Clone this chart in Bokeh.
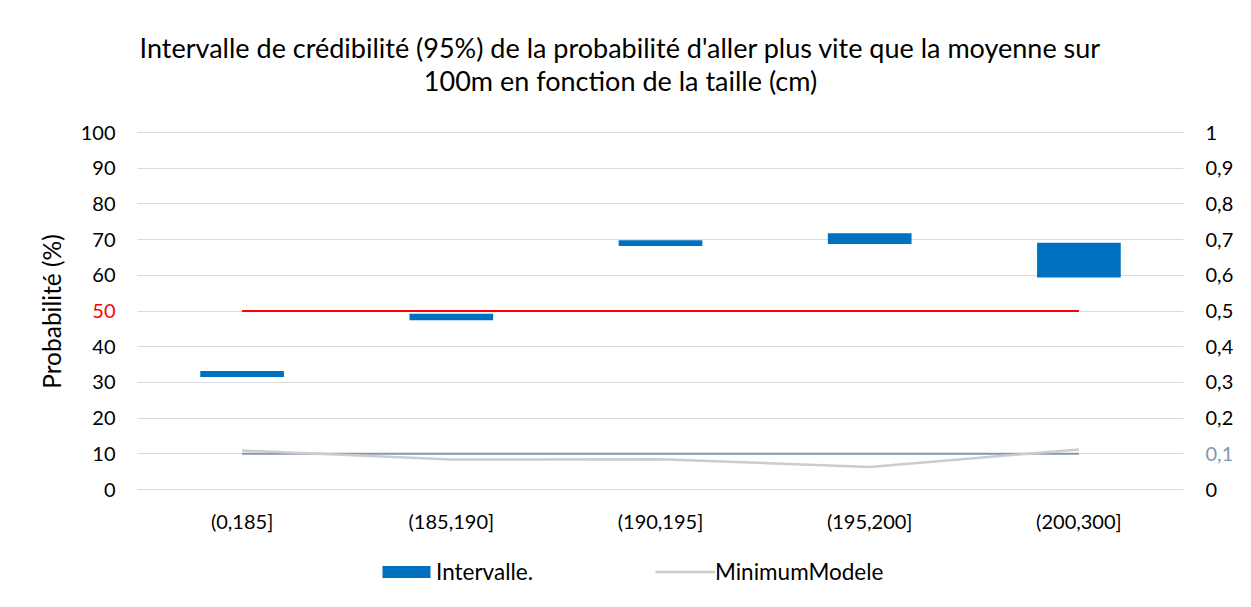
from bokeh.plotting import figure
from bokeh.models import (Range1d, LinearAxis, FixedTicker, CustomJSTickFormatter,
                          Legend, LegendItem, FactorRange, ColumnDataSource)
from bokeh.core.properties import value
from bokeh.embed import file_html
from bokeh.resources import INLINE

# ---------------- data ----------------
categories = ["(0,185]", "(185,190]", "(190,195]", "(195,200]", "(200,300]"]
interval_low = [31.5, 47.4, 68.2, 68.8, 59.4]
interval_high = [33.2, 49.2, 69.8, 71.8, 69.1]
seuil_50 = [50, 50, 50, 50, 50]
minimum_modele = [0.109, 0.084, 0.085, 0.063, 0.112]
seuil_01 = [0.1, 0.1, 0.1, 0.1, 0.1]
y_ticks = [0, 10, 20, 30, 40, 50, 60, 70, 80, 90, 100]
sec_ticks = [0, 0.1, 0.2, 0.3, 0.4, 0.5, 0.6, 0.7, 0.8, 0.9, 1]
title_lines = ["Intervalle de crédibilité (95%) de la probabilité d'aller plus vite que la moyenne sur",
               "100m en fonction de la taille (cm)"]
y_label = "Probabilité (%)"

FONT = "Lato"
TICK_SIZE = "20px"

# The drawing area is extended above and below the 0-100 scale, so that the
# title and the legend sit inside it; ticks and grid only cover 0-100.
PX_PER_UNIT = 3.57
Y_LOW = -101 / PX_PER_UNIT
Y_HIGH = 100 + 100 / PX_PER_UNIT

src = ColumnDataSource(dict(cat=categories, low=interval_low, high=interval_high,
                            s50=seuil_50, mini=minimum_modele, s01=seuil_01))

p = figure(x_range=FactorRange(*categories), y_range=Range1d(Y_LOW, Y_HIGH),
           frame_width=1046, frame_height=558,
           min_border_left=137, min_border_right=67, min_border_top=32, min_border_bottom=16,
           output_backend="svg", toolbar_location=None)
p.extra_y_ranges = {"sec": Range1d(Y_LOW / 100, Y_HIGH / 100)}
p.outline_line_color = None
p.background_fill_color = "white"
p.border_fill_color = "white"

# grid
p.xgrid.grid_line_color = None
p.ygrid.grid_line_color = "#D9D9D9"
p.ygrid.grid_line_width = 1
p.ygrid.ticker = FixedTicker(ticks=y_ticks)


def plain(ax, color="black", size=TICK_SIZE, standoff=22):
    ax.axis_line_color = None
    ax.major_tick_line_color = None
    ax.minor_tick_line_color = None
    ax.major_tick_out = 0
    ax.major_tick_in = 0
    ax.minor_tick_out = 0
    ax.minor_tick_in = 0
    ax.major_label_standoff = standoff
    ax.major_label_text_font = FONT
    ax.major_label_text_font_size = size
    ax.major_label_text_color = color


# left axis (its "50" is drawn in red separately)
ya = p.yaxis[0]
ya.ticker = FixedTicker(ticks=y_ticks)
ya.formatter = CustomJSTickFormatter(code="return tick == 50 ? '' : tick.toString();")
plain(ya)
ya.axis_label = y_label
ya.axis_label_text_font = FONT
ya.axis_label_text_font_size = "24.5px"
ya.axis_label_text_font_style = "normal"
ya.axis_label_text_color = "black"
ya.axis_label_standoff = 12

# right axis (its "0,1" is drawn in blue-grey separately)
comma = "return (Math.round(tick*10)/10).toString().replace('.', ',');"
ra = LinearAxis(y_range_name="sec", ticker=FixedTicker(ticks=sec_ticks),
                formatter=CustomJSTickFormatter(code="if (Math.abs(tick-0.1) < 1e-9) return ''; " + comma))
plain(ra)
p.add_layout(ra, "right")

# x axis, drawn at y = 0
xa = p.xaxis[0]
plain(xa, standoff=19)
xa.axis_line_color = "#D9D9D9"
xa.fixed_location = 0

# glyphs
bars = p.vbar(x="cat", bottom="low", top="high", width=0.4, source=src,
              fill_color="#0070C0", line_color=None)
p.line(x="cat", y="s50", source=src, line_color="#FF0000", line_width=2)
p.line(x="cat", y="s01", source=src, y_range_name="sec", line_color="#8497B0", line_width=2)
mini = p.line(x="cat", y="mini", source=src, y_range_name="sec", line_color="#CCCCCC", line_width=2.5)

# coloured tick labels "50" (left) and "0,1" (right), drawn beside the axes
p.text(x=[categories[0]], y=[50], text=["50"], x_offset=-126.6, text_align="right",
       text_baseline="middle", text_font=value(FONT), text_font_size=TICK_SIZE,
       text_color="#FF0000", level="overlay")
p.text(x=[categories[-1]], y=[0.1], text=["0,1"], x_offset=126.6, text_align="left",
       text_baseline="middle", text_font=value(FONT), text_font_size=TICK_SIZE,
       text_color="#8497B0", level="overlay", y_range_name="sec")

# title: two centred lines above the 0-100 area
for line, dy in zip(title_lines, [-85, -52]):
    p.text(x=[categories[2]], y=[100], text=[line], x_offset=-40, y_offset=dy,
           text_align="center", text_baseline="middle", text_font=value(FONT),
           text_font_size="27px", text_color="black", level="overlay")

# legend
legend = Legend(items=[LegendItem(label="Intervalle.", renderers=[bars]),
                       LegendItem(label="MinimumModele", renderers=[mini])],
                location=(239, 5), orientation="horizontal",
                glyph_width=60, glyph_height=15, label_standoff=0, spacing=0,
                label_width=219, label_height=24, padding=0, margin=0,
                border_line_color=None, background_fill_alpha=0,
                label_text_font=FONT, label_text_font_size="22.5px", label_text_color="black")
p.add_layout(legend, "center")

open("out.html", "w").write(file_html(p, INLINE))
